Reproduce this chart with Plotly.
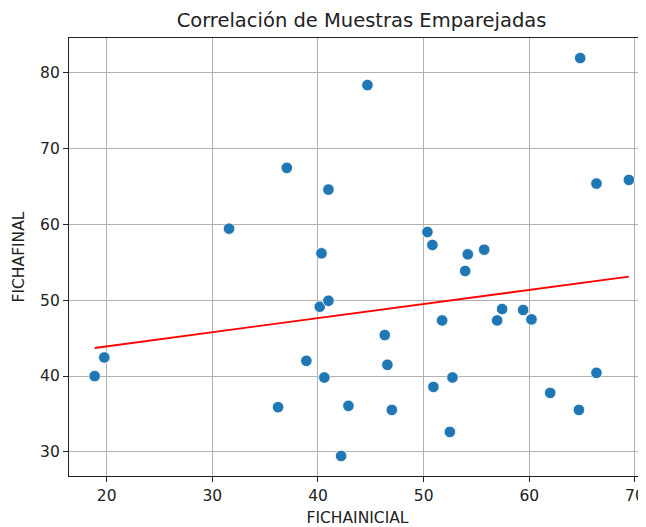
import numpy as np
import plotly.graph_objects as go

ficha_inicial = [37.05, 40.99, 31.58, 40.33, 44.68, 64.82, 66.36, 69.43, 50.36, 50.83,
                 54.18, 55.73, 40.17, 40.99, 19.77, 18.86, 38.90, 40.60, 36.22, 42.88,
                 42.19, 53.93, 57.43, 59.42, 51.75, 56.96, 60.21, 46.32, 46.57, 52.73,
                 50.93, 66.36, 61.98, 46.99, 64.70, 52.48]
ficha_final = [67.43, 64.57, 59.42, 56.17, 78.34, 81.90, 65.36, 65.84, 58.98, 57.27,
               56.04, 56.65, 49.13, 49.92, 42.45, 39.99, 42.00, 39.81, 35.90, 36.07,
               29.47, 53.84, 48.83, 48.70, 47.33, 47.33, 47.46, 45.40, 41.48, 39.81,
               38.57, 40.42, 37.78, 35.54, 35.54, 32.64]

x_ticks = [20, 30, 40, 50, 60, 70]
y_ticks = [30, 40, 50, 60, 70, 80]

xa = np.array(ficha_inicial)
ya = np.array(ficha_final)
slope, intercept = np.polyfit(xa, ya, 1)
line_x = np.array([xa.min(), xa.max()])
line_y = slope * line_x + intercept

font = "DejaVu Sans"
TICK_SIZE = 15.5

# The page body has an 8px default margin, so the figure is sized/offset to compensate.
W, H = 638, 519

fig = go.Figure()
fig.add_trace(go.Scatter(
    x=ficha_inicial, y=ficha_final, mode="markers",
    marker=dict(color="#1f77b4", size=11.5, line=dict(color="white", width=0.8)),
    showlegend=False, hoverinfo="x+y"))
fig.add_trace(go.Scatter(
    x=line_x, y=line_y, mode="lines",
    line=dict(color="red", width=1.8), showlegend=False))

axis_common = dict(
    showgrid=True, gridcolor="#b0b0b0", gridwidth=1.1,
    showline=True, linecolor="#222", linewidth=1.1,
    ticks="outside", ticklen=5, tickcolor="#222", tickwidth=1,
    tickfont=dict(family=font, size=TICK_SIZE, color="#222"),
    zeroline=False, automargin=False,
)

fig.update_layout(
    width=W, height=H,
    margin=dict(l=61, r=0, t=30, b=51, autoexpand=False),
    paper_bgcolor="white", plot_bgcolor="white",
    font=dict(family=font, color="#222"),
    title=dict(text="Correlación de Muestras Emparejadas",
               font=dict(family=font, size=19.5, color="#222"),
               x=0.507, xanchor="center", xref="paper",
               y=1 - 12 / H, yref="container", yanchor="middle",
               automargin=False),
    xaxis=dict(range=[16.43, 71.05], tickvals=x_ticks, mirror=True,
               title=dict(text="FICHAINICIAL", font=dict(family=font, size=TICK_SIZE), standoff=9),
               **axis_common),
    yaxis=dict(range=[26.83, 84.54], tickvals=y_ticks, mirror=False,
               title=dict(text="FICHAFINAL", font=dict(family=font, size=TICK_SIZE), standoff=11),
               **axis_common),
)
fig.write_html("out.html")
